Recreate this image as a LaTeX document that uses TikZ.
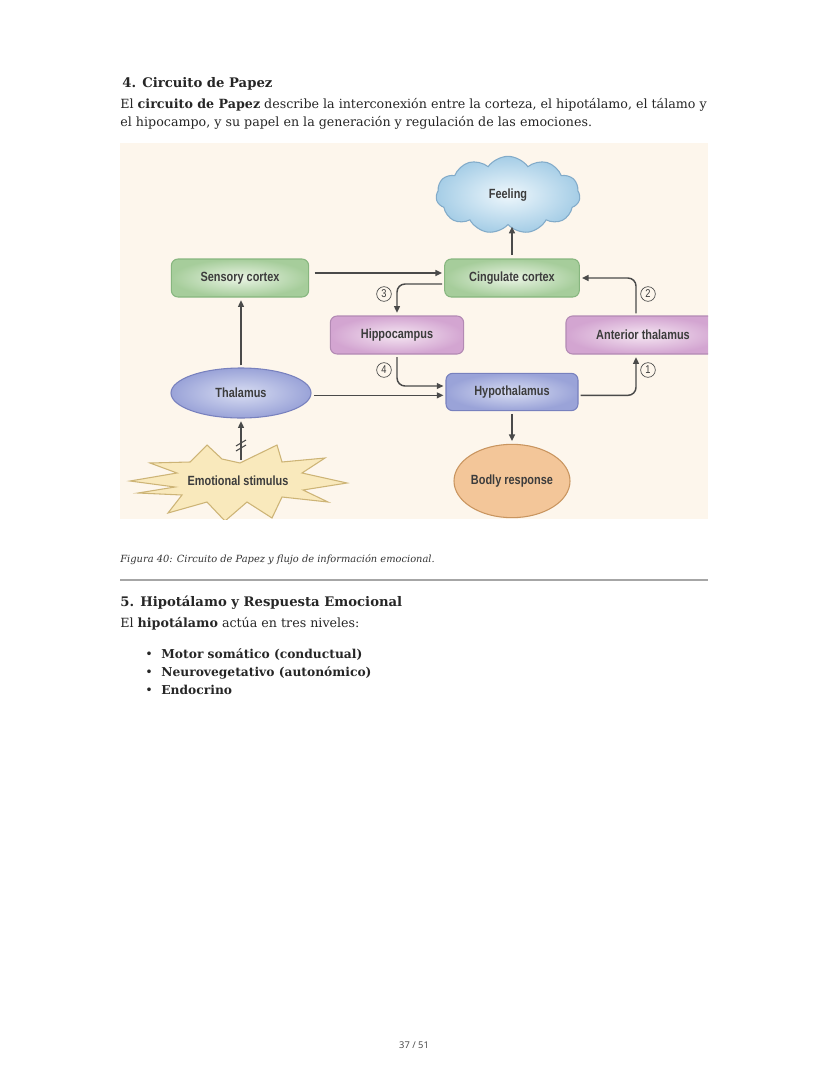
\documentclass[tikz,border=0pt]{standalone}
\usepackage{fontspec}
\setmainfont{DejaVu Serif}
\newfontfamily\diagfont[FakeStretch=0.82]{Liberation Sans}
\newfontfamily\pagefont{Noto Sans}
\usetikzlibrary{shapes.geometric,shapes.symbols,arrows.meta}
\definecolor{paper}{HTML}{FDF6EC}
\definecolor{greenOut}{HTML}{A6CD9B}
\definecolor{greenIn}{HTML}{EAF4E4}
\definecolor{greenLine}{HTML}{87B67F}
\definecolor{purpleOut}{HTML}{D3A5D1}
\definecolor{purpleIn}{HTML}{F5E6F2}
\definecolor{purpleLine}{HTML}{B38AB4}
\definecolor{blueOut}{HTML}{9AA3D8}
\definecolor{blueIn}{HTML}{D8DDF2}
\definecolor{blueLine}{HTML}{7881BE}
\definecolor{cloudOut}{HTML}{A5CDE6}
\definecolor{cloudIn}{HTML}{EEF7FC}
\definecolor{cloudLine}{HTML}{82ABC9}
\definecolor{starFill}{HTML}{F9E9BC}
\definecolor{starLine}{HTML}{CDB476}
\definecolor{orangeFill}{HTML}{F3C699}
\definecolor{orangeLine}{HTML}{C9955F}
\definecolor{arrowgray}{HTML}{4A4A4A}
\definecolor{textgray}{HTML}{3C3C3C}
\begin{document}
\begin{tikzpicture}[x=0.75pt, y=-0.75pt, line width=0.6pt,
  every node/.style={inner sep=0pt},
  txt/.style={anchor=base west, font=\fontsize{9.5}{12}\selectfont, text=black!85},
  head/.style={anchor=base west, font=\bfseries\fontsize{9.9}{12}\selectfont, text=black!85},
  lbl/.style={font=\diagfont\bfseries\fontsize{10}{12}\selectfont, text=textgray},
  box/.style={lbl, rectangle, rounded corners=5pt, draw, line width=0.8pt, minimum height=28.5pt},
  greenbox/.style={box, draw=greenLine, inner color=greenIn, outer color=greenOut},
  purplebox/.style={box, draw=purpleLine, inner color=purpleIn, outer color=purpleOut},
  bluebox/.style={box, draw=blueLine, inner color=blueIn, outer color=blueOut},
  arr/.style={draw=arrowgray, line width=1.1pt, -{Triangle[length=5pt,width=4.4pt]}},
  num/.style={circle, draw=arrowgray, line width=0.5pt, minimum size=11pt,
    font=\diagfont\fontsize{8.5}{9}\selectfont, text=textgray}]
  \useasboundingbox (0,0) rectangle (828,1071);
  % Section 4 heading and intro
  \node[head] (h4) at (122,87) {4. Circuito de Papez};
  \node[txt] (p1) at (120,108)
    {El \textbf{circuito de Papez} describe la interconexión entre la corteza, el hipotálamo, el tálamo y};
  \node[txt] (p2) at (120,126)
    {el hipocampo, y su papel en la generación y regulación de las emociones.};
  % Figure panel (Anterior thalamus is cut by the right edge)
  \begin{scope}
    \clip (120,143) rectangle (708,519);
    \fill[paper] (120,143) rectangle (708,519);
    \node[lbl, cloud, cloud puffs=11, cloud puff arc=110, aspect=2, draw=cloudLine,
      line width=0.8pt, inner color=cloudIn, outer color=cloudOut,
      minimum width=108pt, minimum height=58pt] (feel) at (508,195) {Feeling};
    \node[greenbox, minimum width=103pt] (sens) at (240,278) {Sensory cortex};
    \node[greenbox, minimum width=101pt] (cing) at (512,278) {Cingulate cortex};
    \node[purplebox, minimum width=100pt] (hippo) at (397,335) {Hippocampus};
    \node[purplebox, minimum width=115.5pt] (antthal) at (643,335) {Anterior thalamus};
    \node[bluebox, minimum width=99pt, minimum height=28pt] (hypo) at (512,392) {Hypothalamus};
    \node[lbl, ellipse, draw=blueLine, line width=0.8pt, inner color=blueIn, outer color=blueOut,
      minimum width=105pt, minimum height=37.5pt] (thal) at (241,393) {Thalamus};
    \node[lbl, ellipse, draw=orangeLine, line width=0.8pt, fill=orangeFill,
      minimum width=82.5pt, minimum height=55pt] (body) at (512,481) {Bodly response};
    % Star of the stimulus, drawn point by point
    \draw[starLine, line width=0.8pt, fill=starFill, line join=miter]
      (130,481) -- (177,473) -- (150,463) -- (190,462) -- (207,445) -- (222,459)
      -- (240,463) -- (277,445) -- (282,462) -- (325,458) -- (302,473) -- (347,483)
      -- (303,490) -- (328,502) -- (282,497) -- (272,518) -- (247,502) -- (225,521)
      -- (207,502) -- (168,513) -- (182,495) -- (138,493) -- (175,487) -- cycle;
    \node[lbl] (stim) at (238,481) {Emotional stimulus};
    % Connections
    \draw[arr, shorten <=4pt, shorten >=1.5pt] ([yshift=3.75pt]sens.east) -- ([yshift=3.75pt]cing.west);
    \draw[arr, rounded corners=6pt, shorten <=1.5pt, shorten >=2pt]
      ([yshift=-4.5pt]cing.west) -| (hippo.north);
    \coordinate (hypoin) at ([yshift=4.5pt]hypo.west);
    \draw[arr, rounded corners=6pt, shorten <=2pt, shorten >=1.5pt] (hippo.south) |- (hypoin);
    \coordinate (hypolow) at ([yshift=-2.5pt]hypo.west);
    \draw[arr, shorten <=2pt, shorten >=1.5pt] (thal.east |- hypolow) -- (hypolow);
    \draw[arr, shorten <=1.5pt, shorten >=2pt] (thal.north) -- (thal.north |- sens.south);
    \coordinate (stimtop) at (241,460);
    \draw[arr, shorten >=2pt] (stimtop) -- (thal.south);
    \draw[arrowgray, line width=0.8pt] (236,446) -- (246,440);
    \draw[arrowgray, line width=0.8pt] (236,451) -- (246,445);
    \draw[arr, shorten <=2pt, shorten >=2pt] (hypo.south) -- (body.north);
    \draw[arr, shorten <=2.5pt, shorten >=1pt] (cing.north) -- (cing.north |- feel.south);
    \draw[arr, rounded corners=6pt, shorten <=1.5pt, shorten >=2pt]
      ([yshift=-2.5pt]hypo.east) -| ([xshift=-5.25pt]antthal.south);
    \draw[arr, rounded corners=6pt, shorten <=1.5pt, shorten >=1.5pt]
      ([xshift=-5.25pt]antthal.north) |- (cing.east);
    % Step numbers
    \node[num] (n1) at (648,370) {1};
    \node[num] (n2) at (648,294) {2};
    \node[num] (n3) at (384,294) {3};
    \node[num] (n4) at (384,370) {4};
  \end{scope}
  % Caption and rule
  \node[anchor=base west, font=\itshape\fontsize{7.4}{9}\selectfont, text=black!80] (cap) at (120,562)
    {Figura 40: Circuito de Papez y flujo de información emocional.};
  \draw[black!35, line width=1pt] (120,580) -- (708,580);
  % Section 5
  \node[head] (h5) at (120,606) {5. Hipotálamo y Respuesta Emocional};
  \node[txt] (p3) at (120,627) {El \textbf{hipotálamo} actúa en tres niveles:};
  \foreach \item [count=\i] in {Motor somático (conductual), Neurovegetativo (autonómico), Endocrino} {
    \node[txt] (bul\i) at (145,640+18*\i) {•};
    \node[txt, font=\bfseries\fontsize{9.2}{12}\selectfont] (item\i) at (161,640+18*\i) {\item};
  }
  % Page number
  \node[font=\pagefont\fontsize{7}{8}\selectfont, text=black!70] (pg) at (414,1045) {37 / 51};
\end{tikzpicture}
\end{document}
